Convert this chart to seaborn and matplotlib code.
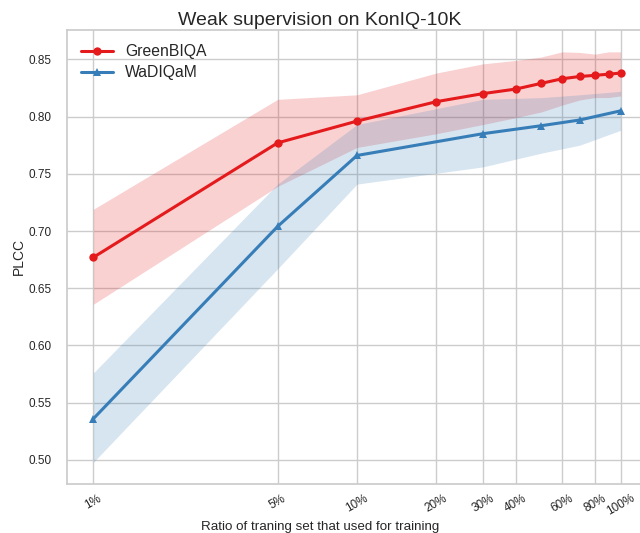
import matplotlib
matplotlib.use("Agg")
import matplotlib.pyplot as plt
import matplotlib.ticker as mticker
import pandas as pd
import seaborn as sns

# training set ratio (%) and PLCC
green_ratio = [1, 5, 10, 20, 30, 40, 50, 60, 70, 80, 90, 100]
green_plcc = [0.677, 0.777, 0.796, 0.813, 0.820, 0.824, 0.829, 0.833, 0.835, 0.836, 0.837, 0.838]
green_upper = [0.719, 0.815, 0.819, 0.838, 0.846, 0.849, 0.852, 0.8565, 0.856, 0.8545, 0.8565, 0.8565]
green_lower = [0.636, 0.739, 0.773, 0.785, 0.793, 0.799, 0.804, 0.810, 0.8145, 0.8166, 0.8166, 0.818]

wad_ratio = [1, 5, 10, 30, 50, 70, 100]
wad_plcc = [0.536, 0.704, 0.766, 0.785, 0.792, 0.797, 0.805]
wad_upper = [0.576, 0.741, 0.793, 0.815, 0.8165, 0.819, 0.822]
wad_lower = [0.498, 0.667, 0.741, 0.756, 0.768, 0.775, 0.788]

tick_ratio = [1, 5, 10, 20, 30, 40, 60, 80, 100]
tick_labels = ["1%", "5%", "10%", "20%", "30%", "40%", "60%", "80%", "100%"]

red = "#e41a1c"
blue = "#377eb8"

sns.set_theme(style="whitegrid")
plt.rcParams["font.family"] = ["Liberation Sans", "DejaVu Sans"]

df_green = pd.DataFrame({"ratio": green_ratio, "plcc": green_plcc,
                         "upper": green_upper, "lower": green_lower})
df_wad = pd.DataFrame({"ratio": wad_ratio, "plcc": wad_plcc,
                       "upper": wad_upper, "lower": wad_lower})

fig = plt.figure(figsize=(6.4, 5.33), dpi=100)
ax = fig.add_axes([67 / 640, 1 - 484 / 533, (647 - 67) / 640, (484 - 30) / 533])
ax.set_xscale("log")

ax.fill_between(df_green["ratio"], df_green["lower"], df_green["upper"], color=red, alpha=0.2, linewidth=0)
ax.fill_between(df_wad["ratio"], df_wad["lower"], df_wad["upper"], color=blue, alpha=0.2, linewidth=0)

sns.lineplot(data=df_green, x="ratio", y="plcc", marker="o", color=red, linewidth=2.2,
             markersize=6, markeredgewidth=0, label="GreenBIQA", ax=ax)
sns.lineplot(data=df_wad, x="ratio", y="plcc", marker="^", color=blue, linewidth=2.2,
             markersize=6, markeredgewidth=0, label="WaDIQaM", ax=ax)

ax.set_xlim(10 ** -0.1, 10 ** 2.1)
ax.set_ylim(0.479, 0.8756)
ax.set_xticks(tick_ratio)
ax.set_xticklabels(tick_labels, rotation=30, fontsize=8.5)
ax.xaxis.set_minor_locator(mticker.NullLocator())
ax.set_yticks([0.50, 0.55, 0.60, 0.65, 0.70, 0.75, 0.80, 0.85])
ax.set_yticklabels([f"{v:.2f}" for v in ax.get_yticks()], fontsize=8.5)
ax.tick_params(axis="x", length=0, pad=6)
ax.tick_params(axis="y", length=0, pad=11)

# the reference centres the x label on the figure, not on the axes
ax.set_xlabel("Ratio of traning set that used for training", fontsize=9.6, labelpad=2,
              x=(320 - 67) / 580)
ax.set_ylabel("PLCC", fontsize=10, labelpad=2)
fig.suptitle("Weak supervision on KonIQ-10K", fontsize=14, x=0.5, y=0.978, va="top")
ax.legend(loc="upper left", frameon=False, fontsize=11.3, borderaxespad=0.5, labelspacing=0.4)

fig.savefig("out.png", dpi=100)
